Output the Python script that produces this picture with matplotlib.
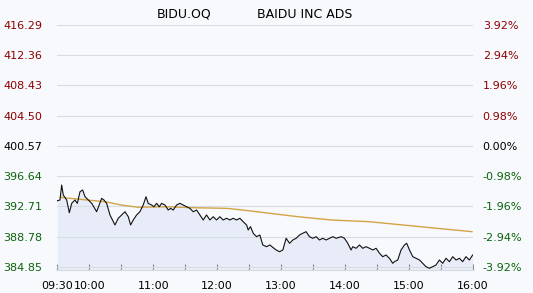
import matplotlib
matplotlib.use('Agg')
import matplotlib.pyplot as plt

# 分时成交价（距 09:30 开盘的分钟数）
minutes = [0, 2.5, 4.1, 5.6, 8.8, 11.3, 13.5, 16.6, 18.8, 21.3, 23.8, 26.0, 29.1,
           32.3, 36.9, 41.6, 43.8, 46.3, 49.4, 54.1, 57.2, 60.4, 63.5, 66.6, 68.8,
           71.3, 74.4, 77.5, 80.6, 83.2, 85.3, 88.5, 90.7, 93.2, 95.6, 97.9, 101.0,
           104.1, 106.3, 108.8, 111.9, 115.0, 118.1, 121.3, 124.4, 127.5, 130.7,
           133.8, 136.9, 140.0, 143.2, 146.3, 149.4, 152.5, 155.6, 158.8, 161.9,
           165.0, 168.2, 171.3, 174.4, 177.6, 179.1, 181.3, 183.8, 186.9, 190.0,
           192.8, 196.3, 199.4, 205.3, 208.5, 211.6, 214.7, 217.9, 221.0, 224.1,
           227.3, 230.3, 233.4, 236.6, 239.7, 242.8, 246.0, 249.1, 252.2, 255.4,
           258.5, 261.6, 266.3, 269.4, 272.5, 275.6, 277.2, 280.3, 283.5, 286.6,
           289.7, 292.9, 296.0, 299.1, 302.3, 305.3, 308.4, 311.6, 314.7, 316.3,
           319.4, 322.5, 325.7, 327.8, 330.4, 333.5, 336.6, 339.8, 342.8, 345.9,
           349.1, 352.2, 355.3, 358.5, 361.6, 364.7, 367.9, 371.0, 374.1, 377.3,
           380.3, 383.4, 386.6, 389.7]
prices = [393.46, 393.55, 395.50, 394.20, 393.55, 391.90, 393.12, 393.55, 393.12,
          394.63, 394.85, 393.98, 393.55, 393.12, 392.03, 393.77, 393.55, 393.12,
          391.61, 390.31, 391.18, 391.61, 392.03, 391.38, 390.31, 390.96, 391.61,
          392.03, 392.90, 393.98, 393.12, 392.90, 392.68, 393.12, 392.68, 393.12,
          392.90, 392.25, 392.47, 392.25, 392.90, 393.12, 392.90, 392.68, 392.47,
          392.03, 392.25, 391.61, 390.96, 391.61, 390.96, 391.38, 390.96, 391.38,
          390.96, 391.18, 390.96, 391.18, 390.96, 391.18, 390.73, 390.31, 389.66,
          390.09, 389.23, 388.79, 389.01, 387.71, 387.49, 387.71, 387.06, 386.84,
          387.06, 388.58, 387.93, 388.36, 388.58, 389.01, 389.23, 389.44, 388.79,
          388.58, 388.79, 388.36, 388.58, 388.36, 388.58, 388.79, 388.58, 388.79,
          388.58, 387.93, 387.06, 387.49, 387.28, 387.71, 387.28, 387.49, 387.28,
          387.06, 387.28, 386.63, 386.19, 386.41, 385.98, 385.33, 385.54, 385.76,
          387.06, 387.71, 387.93, 387.06, 386.19, 385.98, 385.76, 385.33, 384.89,
          384.68, 384.89, 385.11, 385.76, 385.33, 385.98, 385.54, 386.19, 385.76,
          385.98, 385.54, 386.19, 385.76, 386.41]

# 均价线
avg_minutes = [3, 23, 45, 60, 76, 101, 128, 159, 174, 199, 226, 257, 293, 324, 356, 389]
avg_prices = [393.90, 393.62, 393.33, 392.90, 392.61, 392.68, 392.55, 392.47, 392.25,
              391.83, 391.38, 390.96, 390.73, 390.31, 389.88, 389.44]

prev_close = 400.57
price_ticks = [384.85, 388.78, 392.71, 396.64, 400.57, 404.50, 408.43, 412.36, 416.29]
pct_labels = ['-3.92%', '-2.94%', '-1.96%', '-0.98%', '0.00%', '0.98%', '1.96%',
              '2.94%', '3.92%']
time_labels = ['09:30', '10:00', '', '11:00', '', '12:00', '', '13:00', '', '14:00',
               '', '15:00', '', '16:00']

bg = '#f7f9fd'
grid_c = '#d6dce4'
up_c = '#8b0000'
down_c = '#0a640a'


def label_color(v):
    if v > prev_close:
        return up_c
    if v < prev_close:
        return down_c
    return 'black'


W, H = 533, 293
fig = plt.figure(figsize=(W / 100, H / 100), dpi=100)
fig.patch.set_facecolor(bg)
ax = fig.add_axes([57.3 / W, 23 / H, 415.7 / W, 245 / H])
ax.set_facecolor(bg)

y_bottom = 384.46
ax.set_xlim(0, 390)
ax.set_ylim(y_bottom, 416.29)

# 价格线及下方填充
ax.fill_between(minutes, prices, y_bottom, color='#e7ecf8', lw=0)
ax.plot(avg_minutes, avg_prices, color='#d2a445', lw=1.0)
ax.plot(minutes, prices, color='#111111', lw=0.8)

# 纵轴：左侧价格，右侧涨跌幅
ax.set_yticks(price_ticks)
ax.set_yticklabels(['%.2f' % v for v in price_ticks])
ax.tick_params(axis='y', length=0, pad=11, labelsize=8)
for lbl, v in zip(ax.get_yticklabels(), price_ticks):
    lbl.set_color(label_color(v))
ax.grid(axis='y', color=grid_c, lw=0.8)

ax2 = ax.twinx()
ax2.set_ylim(ax.get_ylim())
ax2.set_yticks(price_ticks)
ax2.set_yticklabels(pct_labels)
ax2.tick_params(axis='y', length=0, pad=7, labelsize=8)
for lbl, v in zip(ax2.get_yticklabels(), price_ticks):
    lbl.set_color(label_color(v))
    lbl.set_horizontalalignment('left')

# 横轴：每半小时一个刻度
ax.set_xticks(range(0, 391, 30))
ax.set_xticklabels(time_labels)
ax.tick_params(axis='x', direction='in', length=4, width=0.8, color='#8a8f96',
               pad=8, labelsize=8)

for a in (ax, ax2):
    for s in ('top', 'right', 'left'):
        a.spines[s].set_visible(False)
    a.spines['bottom'].set_color(grid_c)
    a.spines['bottom'].set_linewidth(0.8)

fig.text(184 / W, 1 - 14 / H, 'BIDU.OQ', ha='center', va='center', fontsize=9)
fig.text(305 / W, 1 - 14 / H, 'BAIDU INC ADS', ha='center', va='center', fontsize=9)

fig.savefig('out.png', dpi=100, facecolor=bg)
